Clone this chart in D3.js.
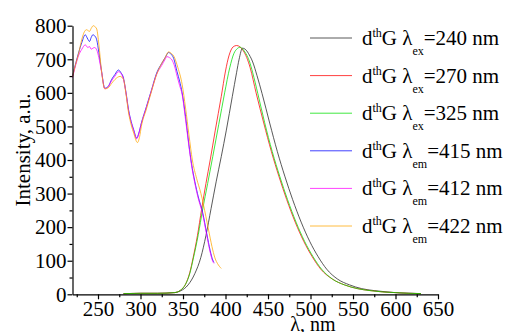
<!DOCTYPE html>
<html>
<head>
<meta charset="utf-8">
<script src="https://cdn.jsdelivr.net/npm/d3@7"></script>
<style>
  html, body { margin: 0; padding: 0; background: #fff; }
  svg { display: block; }
</style>
</head>
<body>
<div id="chart"></div>
<script>
// ---------- data ----------
// emission spectra, excitation at 240 / 270 / 325 nm
const wl240 = [280, 300, 320, 340, 347, 356, 364, 371, 377, 383, 389, 395, 401, 408, 413, 416, 420, 424, 428, 432, 437, 443, 452, 461, 470, 479, 489, 499, 509, 519, 532, 546, 560, 575, 590, 605, 620, 630];
const int240 = [2, 3, 3, 5, 10, 28, 62, 110, 175, 255, 335, 410, 489, 589, 660, 700, 733, 728, 713, 692, 652, 598, 510, 425, 350, 282, 215, 158, 112, 75, 45, 28, 17, 11, 7, 4, 3, 2];

const wl270 = [280, 300, 320, 340, 347, 353, 358, 362, 367, 372, 377, 382, 388, 395, 400, 404, 409, 413, 417, 421, 425, 429, 436, 445, 454, 463, 472, 482, 492, 502, 512, 526, 540, 555, 570, 585, 600, 615, 630];
const int270 = [2, 3, 3, 5, 12, 30, 65, 110, 175, 255, 330, 400, 489, 589, 665, 710, 737, 741, 737, 725, 705, 675, 600, 510, 425, 350, 282, 215, 158, 112, 75, 45, 28, 17, 11, 7, 5, 3, 2];

const wl325 = [280, 300, 320, 340, 347, 353, 358, 362, 368, 373, 379, 385, 392, 399, 405, 410, 414, 417, 420, 424, 428, 432, 438, 446, 455, 464, 473, 483, 493, 503, 513, 526, 540, 555, 570, 585, 600, 615, 630];
const int325 = [2, 3, 3, 5, 12, 30, 62, 105, 178, 251, 330, 410, 505, 600, 675, 718, 732, 736, 731, 717, 695, 660, 598, 512, 425, 350, 282, 215, 158, 112, 75, 45, 28, 17, 11, 7, 5, 3, 2];

// excitation spectra, emission at 415 / 412 / 422 nm
const wl415 = [220, 224, 227, 231, 235, 238, 240, 242, 244, 246, 248.5, 251, 254, 258, 262, 266, 270, 274, 277, 280, 283, 286, 289, 292, 295.5, 298, 301, 307, 313, 319, 325, 329, 333, 336, 339, 343, 346, 349, 353, 357, 360, 364, 368, 373, 378, 382, 385, 386.5];
const int415 = [650, 690, 718, 750, 773, 760, 753, 765, 773, 770, 758, 720, 668, 614, 619, 640, 655, 668, 660, 644, 600, 549, 515, 490, 465, 480, 510, 559, 609, 659, 688, 705, 720, 715, 703, 663, 635, 600, 530, 445, 390, 335, 290, 245, 180, 130, 102, 95];

const wl412 = [220, 224, 227, 231, 235, 238, 240, 242, 244, 246, 248.5, 251, 254, 258, 262, 266, 270, 274, 277, 280, 283, 286, 289, 292, 295.5, 298, 301, 307, 313, 319, 325, 329, 331, 334, 337, 340, 343, 346, 349, 353, 357, 360, 364, 368, 373, 378, 382, 385, 386.5];
const int412 = [645, 685, 710, 730, 743, 735, 738, 730, 733, 735, 728, 705, 665, 612, 618, 636, 650, 663, 658, 640, 598, 545, 512, 488, 463, 478, 508, 557, 607, 655, 682, 700, 708, 705, 698, 680, 650, 622, 595, 520, 440, 385, 330, 285, 240, 175, 125, 98, 92];

const wl422 = [220, 224, 227, 231, 234, 236.5, 238, 240, 242, 244.5, 246, 248.5, 251, 254, 258, 262, 266, 270, 276, 280, 283, 286, 289, 292, 296.4, 299, 301, 307, 313, 319, 325, 329, 333, 336, 339, 344, 349, 353, 357, 361, 366, 371, 377, 381, 385, 388, 390.5, 395];
const int422 = [648, 688, 715, 760, 782, 788, 786, 783, 792, 800, 798, 790, 745, 668, 612, 615, 628, 640, 649, 640, 595, 540, 505, 480, 452, 470, 500, 552, 605, 655, 688, 705, 722, 718, 710, 675, 625, 555, 475, 400, 345, 301, 231, 180, 132, 105, 92, 77];

// legend: sub-label and value
const legendSub = ["ex", "ex", "ex", "em", "em", "em"];
const legendVal = ["240", "270", "325", "415", "412", "422"];
const seriesColors = ["#222222", "#ff0000", "#00e000", "#0000ff", "#ff00ff", "#ffa500"];

const xMajor = [250, 300, 350, 400, 450, 500, 550, 600, 650];
const xMinor = [225, 275, 325, 375, 425, 475, 525, 575, 625];
const yMajor = [0, 100, 200, 300, 400, 500, 600, 700, 800];
const yMinor = [50, 150, 250, 350, 450, 550, 650, 750];

// ---------- chart ----------
const width = 506, height = 332;
const font = "'Liberation Serif', 'Times New Roman', serif";

const svg = d3.select("#chart").append("svg")
  .attr("width", width)
  .attr("height", height)
  .attr("font-family", font)
  .style("font-family", font);

const x = d3.scaleLinear().domain([220, 650]).range([72.5, 438]);
const y = d3.scaleLinear().domain([0, 800]).range([294.3, 25.7]);

const series = [
  [wl240, int240], [wl270, int270], [wl325, int325],
  [wl415, int415], [wl412, int412], [wl422, int422]
].map(([w, v], i) => ({ color: seriesColors[i], pts: w.map((d, j) => [d, v[j]]) }));

const line = d3.line()
  .x(d => x(d[0]))
  .y(d => y(d[1]))
  .curve(d3.curveMonotoneX);

svg.append("g")
  .selectAll("path")
  .data(series)
  .enter()
  .append("path")
  .attr("d", d => line(d.pts))
  .attr("fill", "none")
  .attr("stroke", d => d.color)
  .attr("stroke-width", 0.75);

// axes
const xAxisG = svg.append("g")
  .attr("transform", `translate(0,${y(0)})`)
  .call(d3.axisBottom(x).tickValues(xMajor).tickSize(5).tickSizeOuter(0).tickFormat(d3.format("d")));
svg.append("g")
  .attr("transform", `translate(0,${y(0)})`)
  .call(d3.axisBottom(x).tickValues(xMinor).tickSize(3).tickSizeOuter(0).tickFormat(""))
  .select(".domain").remove();

const yAxisG = svg.append("g")
  .attr("transform", `translate(${x(220)},0)`)
  .call(d3.axisLeft(y).tickValues(yMajor).tickSize(5).tickSizeOuter(0).tickPadding(1));
svg.append("g")
  .attr("transform", `translate(${x(220)},0)`)
  .call(d3.axisLeft(y).tickValues(yMinor).tickSize(3).tickSizeOuter(0).tickFormat(""))
  .select(".domain").remove();

svg.selectAll(".domain, .tick line").attr("stroke", "#000").attr("stroke-width", 1.2);
[xAxisG, yAxisG].forEach(g => g.attr("font-family", font).attr("font-size", 21));

xAxisG.selectAll("text")
  .attr("y", 22)
  .attr("dy", 0)
  .style("font-family", font)
  .style("font-size", "21px")
  .attr("fill", "#000");

yAxisG.selectAll("text")
  .style("font-family", font)
  .style("font-size", "21px")
  .attr("fill", "#000");

// axis titles
svg.append("text")
  .attr("transform", "translate(30,150) rotate(-90)")
  .attr("text-anchor", "middle")
  .style("font-size", "21px")
  .text("Intensity, a.u.");

svg.append("text")
  .attr("x", 313)
  .attr("y", 331)
  .attr("text-anchor", "middle")
  .style("font-size", "20px")
  .text("λ, nm");

// legend
const legend = svg.append("g");
const rowY = i => 38 + i * 37.6;

legend.selectAll("line")
  .data(seriesColors)
  .enter()
  .append("line")
  .attr("x1", 310)
  .attr("x2", 352)
  .attr("y1", (d, i) => rowY(i))
  .attr("y2", (d, i) => rowY(i))
  .attr("stroke", d => d)
  .attr("stroke-width", 0.75);

legendSub.forEach((sub, i) => {
  const t = legend.append("text")
    .attr("x", 362)
    .attr("y", rowY(i) + 7)
    .style("font-size", "21px");
  t.append("tspan").text("d");
  t.append("tspan").attr("dy", -8).style("font-size", "12px").text("th");
  t.append("tspan").attr("dy", 8).text("G λ");
  t.append("tspan").attr("dy", 10).style("font-size", "12px").text(sub);
  t.append("tspan").attr("dy", -10).text("=" + legendVal[i] + " nm");
});
</script>
</body>
</html>
